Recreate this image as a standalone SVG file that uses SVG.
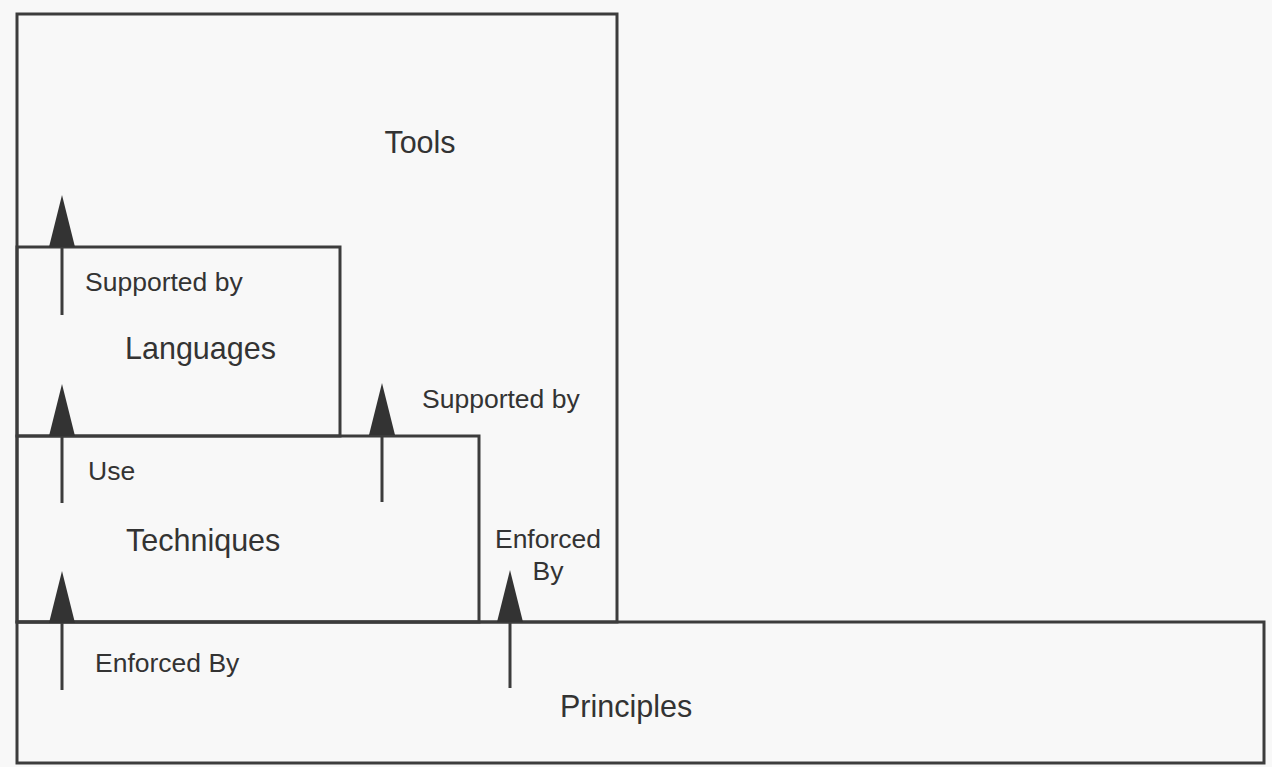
<svg xmlns="http://www.w3.org/2000/svg" width="1272" height="767" viewBox="0 0 1272 767">
  <style>
    .box { fill: none; stroke: #3c3c3c; stroke-width: 3; }
    .title { font-family: "Liberation Sans", Arial, sans-serif; font-size: 30.5px; fill: #333333; }
    .lbl { font-family: "Liberation Sans", Arial, sans-serif; font-size: 26.5px; fill: #333333; }
    .conn { stroke: #3c3c3c; stroke-width: 3; fill: none; marker-end: url(#head); }
  </style>
  <defs>
    <marker id="head" viewBox="0 0 52 26" refX="0" refY="13" markerWidth="52" markerHeight="26" markerUnits="userSpaceOnUse" orient="auto">
      <path d="M0,0 L52,13 L0,26 Z" fill="#333333"/>
    </marker>
  </defs>
  <rect x="0" y="0" width="1272" height="767" fill="#f8f8f8"/>

  <g id="tools">
    <rect class="box" x="17" y="14" width="600" height="608"/>
    <text class="title" x="420" y="153" text-anchor="middle">Tools</text>
  </g>
  <g id="languages">
    <rect class="box" x="17" y="247" width="323" height="189"/>
    <text class="title" x="125" y="359">Languages</text>
  </g>
  <g id="techniques">
    <rect class="box" x="17" y="436" width="462" height="186"/>
    <text class="title" x="126" y="551">Techniques</text>
  </g>
  <g id="principles">
    <rect class="box" x="17" y="622" width="1247" height="141"/>
    <text class="title" x="560" y="717">Principles</text>
  </g>

  <g id="connectors">
    <path class="conn" d="M62,315 L62,247"/>
    <path class="conn" d="M62,503 L62,436"/>
    <path class="conn" d="M382,502 L382,435"/>
    <path class="conn" d="M62,690 L62,623"/>
    <path class="conn" d="M510,688 L510,622"/>
    <text class="lbl" x="85" y="291">Supported by</text>
    <text class="lbl" x="88" y="480">Use</text>
    <text class="lbl" x="422" y="408">Supported by</text>
    <text class="lbl" x="548" y="548" text-anchor="middle">Enforced</text>
    <text class="lbl" x="548" y="580" text-anchor="middle">By</text>
    <text class="lbl" x="95" y="672">Enforced By</text>
  </g>
</svg>
